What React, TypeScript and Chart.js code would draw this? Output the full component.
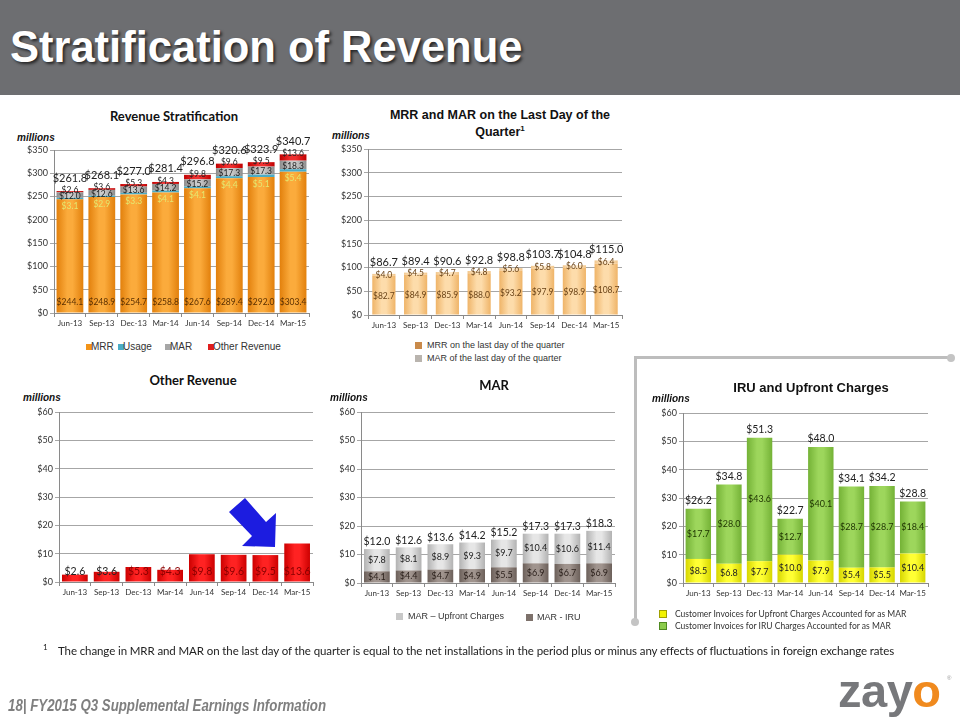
import React, { useEffect, useRef } from "react";
import { Chart, registerables } from "chart.js";

Chart.register(...registerables);

// ---------- DATA ----------
const quarters = ["Jun-13", "Sep-13", "Dec-13", "Mar-14", "Jun-14", "Sep-14", "Dec-14", "Mar-15"];

// Revenue Stratification
const stratMRR = [244.1, 248.9, 254.7, 258.8, 267.6, 289.4, 292.0, 303.4];
const stratUsage = [3.1, 2.9, 3.3, 4.1, 4.1, 4.4, 5.1, 5.4];
const stratMAR = [12.0, 12.6, 13.6, 14.2, 15.2, 17.3, 17.3, 18.3];
const stratOther = [2.6, 3.6, 5.3, 4.3, 9.8, 9.6, 9.5, 13.6];
const stratTotals = ["$261.8", "$268.1", "$277.0", "$281.4", "$296.8", "$320.6", "$323.9", "$340.7"];

// MRR and MAR on the last day of the quarter
const lastDayMRR = [82.7, 84.9, 85.9, 88.0, 93.2, 97.9, 98.9, 108.7];
const lastDayMAR = [4.0, 4.5, 4.7, 4.8, 5.6, 5.8, 6.0, 6.4];
const lastDayTotals = ["$86.7", "$89.4", "$90.6", "$92.8", "$98.8", "$103.7", "$104.8", "$115.0"];

// Other Revenue
const otherRevenue = [2.6, 3.6, 5.3, 4.3, 9.8, 9.6, 9.5, 13.6];

// MAR
const marIRU = [4.1, 4.4, 4.7, 4.9, 5.5, 6.9, 6.7, 6.9];
const marUpfront = [7.8, 8.1, 8.9, 9.3, 9.7, 10.4, 10.6, 11.4];
const marTotals = ["$12.0", "$12.6", "$13.6", "$14.2", "$15.2", "$17.3", "$17.3", "$18.3"];

// IRU and Upfront Charges
const iruUpfront = [8.5, 6.8, 7.7, 10.0, 7.9, 5.4, 5.5, 10.4];
const iruIRU = [17.7, 28.0, 43.6, 12.7, 40.1, 28.7, 28.7, 18.4];
const iruTotals = ["$26.2", "$34.8", "$51.3", "$22.7", "$48.0", "$34.1", "$34.2", "$28.8"];

// ---------- STYLE ----------
const LATO = "Lato, 'Open Sans', sans-serif";
const ARIAL = "'Liberation Sans', Arial, sans-serif";
const NARROW = "'Liberation Sans Narrow', 'Arial Narrow', sans-serif";

const valueLabels = {
  id: "valueLabels",
  afterDatasetsDraw(chart: any, _args: any, opts: any) {
    if (!opts || !opts.segments) return;
    const ctx = chart.ctx;
    ctx.save();
    ctx.textAlign = "center";
    ctx.textBaseline = "middle";
    opts.segments.forEach((s: any) => {
      const meta = chart.getDatasetMeta(s.ds);
      const data = chart.data.datasets[s.ds].data as number[];
      meta.data.forEach((el: any, i: number) => {
        const v = data[i];
        let y = (el.y + el.base) / 2;
        if (s.anchor === "base") y = el.base;
        if (s.anchor === "top") y = el.y;
        y += s.dy || 0;
        ctx.font = `${s.size}px ${LATO}`;
        ctx.fillStyle = typeof s.color === "function" ? s.color(v, i) : s.color;
        ctx.fillText("$" + v.toFixed(1), el.x, y);
      });
    });
    if (opts.totals) {
      const meta = chart.getDatasetMeta(opts.totalsDs);
      ctx.font = `${opts.totalsSize}px ${LATO}`;
      ctx.fillStyle = "#222";
      meta.data.forEach((el: any, i: number) => {
        ctx.fillText(opts.totals[i], el.x, el.y + opts.totalsDy);
      });
    }
    ctx.restore();
  },
};
Chart.register(valueLabels);

const cyl = (edge: string, center: string, pct: number) => (c: any) => {
  const chart = c.chart;
  const xs = chart.scales && chart.scales.x;
  if (!xs || c.dataIndex == null) return center;
  const cx = xs.getPixelForValue(c.dataIndex);
  const w = ((xs.right - xs.left) / chart.data.labels.length) * pct;
  if (!isFinite(cx) || !isFinite(w) || w <= 1) return center;
  const g = chart.ctx.createLinearGradient(cx - w / 2, 0, cx + w / 2, 0);
  g.addColorStop(0, edge);
  g.addColorStop(0.4, center);
  g.addColorStop(0.6, center);
  g.addColorStop(1, edge);
  return g;
};

function baseOptions(p: { max: number; step: number; yWidth: number; padTop: number; padRight: number; pct: number; labels: any }) {
  return {
    responsive: false,
    animation: false,
    devicePixelRatio: 1,
    layout: { padding: { top: p.padTop, right: p.padRight, left: 0, bottom: 0 } },
    datasets: { bar: { categoryPercentage: p.pct, barPercentage: 1 } },
    plugins: {
      legend: { display: false },
      tooltip: { enabled: false },
      title: { display: false },
      valueLabels: p.labels,
    },
    scales: {
      x: {
        stacked: true,
        grid: { display: true, drawOnChartArea: false, drawTicks: true, tickLength: 4, color: "#8a8a8a" },
        border: { color: "#8a8a8a" },
        ticks: { font: { family: LATO, size: 8 }, color: "#333", padding: 2, maxRotation: 0, autoSkip: false },
        afterFit: (s: any) => {
          s.height = 18;
        },
      },
      y: {
        stacked: true,
        min: 0,
        max: p.max,
        ticks: {
          stepSize: p.step,
          callback: (v: any) => "$" + v,
          font: { family: LATO, size: 9 },
          color: "#333",
          padding: 2,
        },
        grid: { color: "#a6a6a6", tickLength: 4, drawTicks: true },
        border: { color: "#8a8a8a" },
        afterFit: (s: any) => {
          s.width = p.yWidth;
        },
      },
    },
  };
}

function stratConfig(): any {
  const pct = 0.84;
  return {
    type: "bar",
    data: {
      labels: quarters,
      datasets: [
        { label: "MRR", data: stratMRR, backgroundColor: cyl("#e2800c", "#fbab3c", pct) },
        { label: "Usage", data: stratUsage, backgroundColor: "#4bacc6" },
        { label: "MAR", data: stratMAR, backgroundColor: cyl("#8c8c8c", "#cacaca", pct) },
        { label: "Other Revenue", data: stratOther, backgroundColor: cyl("#c00000", "#f03030", pct) },
      ],
    },
    options: baseOptions({
      max: 350, step: 50, yWidth: 50, padTop: 26, padRight: 2, pct,
      labels: {
        segments: [
          { ds: 0, anchor: "base", dy: -10, size: 8.5, color: "#5b3000" },
          { ds: 1, anchor: "base", dy: 7, size: 8.5, color: "#e4e870" },
          { ds: 2, anchor: "center", dy: 1, size: 8.5, color: "#222" },
          { ds: 3, anchor: "top", dy: -1, size: 8.5, color: "#222" },
        ],
        totals: stratTotals, totalsDs: 3, totalsDy: -13, totalsSize: 11,
      },
    }),
  };
}

function lastDayConfig(): any {
  const pct = 0.73;
  return {
    type: "bar",
    data: {
      labels: quarters,
      datasets: [
        { label: "MRR on the last day of the quarter", data: lastDayMRR, backgroundColor: cyl("#efb468", "#fddcab", pct) },
        { label: "MAR of the last day of the quarter", data: lastDayMAR, backgroundColor: cyl("#f2c68a", "#feeacd", pct) },
      ],
    },
    options: baseOptions({
      max: 350, step: 50, yWidth: 50, padTop: 25, padRight: 2, pct,
      labels: {
        segments: [
          { ds: 0, anchor: "center", dy: 1, size: 8.5, color: "#6b4418" },
          { ds: 1, anchor: "center", dy: 0, size: 8.5, color: "#6b4418" },
        ],
        totals: lastDayTotals, totalsDs: 1, totalsDy: -11, totalsSize: 11,
      },
    }),
  };
}

function otherConfig(): any {
  const pct = 0.81;
  return {
    type: "bar",
    data: {
      labels: quarters,
      datasets: [{ label: "Other Revenue", data: otherRevenue, backgroundColor: cyl("#cc0000", "#ff2222", pct) }],
    },
    options: baseOptions({
      max: 60, step: 10, yWidth: 50, padTop: 12, padRight: 2, pct,
      labels: {
        segments: [
          { ds: 0, anchor: "base", dy: -10, size: 10.5, color: (v: number) => (v > 4 ? "#8a0000" : "#222") },
        ],
      },
    }),
  };
}

function marConfig(): any {
  const pct = 0.81;
  return {
    type: "bar",
    data: {
      labels: quarters,
      datasets: [
        { label: "MAR - IRU", data: marIRU, backgroundColor: cyl("#6c605a", "#a0948e", pct) },
        { label: "MAR – Upfront Charges", data: marUpfront, backgroundColor: cyl("#b2b2b2", "#e6e6e6", pct) },
      ],
    },
    options: baseOptions({
      max: 60, step: 10, yWidth: 50, padTop: 12, padRight: 2, pct,
      labels: {
        segments: [
          { ds: 0, anchor: "center", dy: 0, size: 9, color: "#2a1f1a" },
          { ds: 1, anchor: "center", dy: 0, size: 9, color: "#222" },
        ],
        totals: marTotals, totalsDs: 1, totalsDy: -7, totalsSize: 10.5,
      },
    }),
  };
}

function iruConfig(): any {
  const pct = 0.83;
  return {
    type: "bar",
    data: {
      labels: quarters,
      datasets: [
        { label: "Customer Invoices for Upfront Charges Accounted for as MAR", data: iruUpfront, backgroundColor: cyl("#d6d600", "#ffff33", pct) },
        { label: "Customer Invoices for IRU Charges Accounted for as MAR", data: iruIRU, backgroundColor: cyl("#74b236", "#9dd65c", pct) },
      ],
    },
    options: baseOptions({
      max: 60, step: 10, yWidth: 50, padTop: 13, padRight: 2, pct,
      labels: {
        segments: [
          { ds: 0, anchor: "center", dy: 0, size: 9, color: "#222" },
          { ds: 1, anchor: "center", dy: 0, size: 9, color: "#1e3300" },
        ],
        totals: iruTotals, totalsDs: 1, totalsDy: -8, totalsSize: 10.5,
      },
    }),
  };
}

// ---------- COMPONENTS ----------
function ChartBox(props: { left: number; top: number; width: number; height: number; config: () => any }) {
  const ref = useRef<HTMLCanvasElement>(null);
  useEffect(() => {
    const chart = new Chart(ref.current as HTMLCanvasElement, props.config());
    return () => chart.destroy();
  }, []);
  return (
    <canvas
      ref={ref}
      width={props.width}
      height={props.height}
      style={{ position: "absolute", left: props.left, top: props.top, width: props.width, height: props.height }}
    />
  );
}

function CText(props: { x: number; y: number; children: any; style?: any }) {
  return (
    <div
      style={{
        position: "absolute",
        left: props.x,
        top: props.y,
        transform: "translate(-50%, -50%)",
        whiteSpace: "nowrap",
        lineHeight: 1,
        ...props.style,
      }}
    >
      {props.children}
    </div>
  );
}

function LText(props: { x: number; y: number; children: any; style?: any; sx?: number }) {
  return (
    <div
      style={{
        position: "absolute",
        left: props.x,
        top: props.y,
        transform: `translateY(-50%) scaleX(${props.sx || 1})`,
        transformOrigin: "left center",
        whiteSpace: "nowrap",
        lineHeight: 1,
        ...props.style,
      }}
    >
      {props.children}
    </div>
  );
}

function Marker(props: { x: number; y: number; size: number; color: string; border?: string }) {
  return (
    <div
      style={{
        position: "absolute",
        left: props.x,
        top: props.y - props.size / 2,
        width: props.size,
        height: props.size,
        background: props.color,
        boxSizing: "border-box",
        border: props.border ? `1px solid ${props.border}` : "none",
      }}
    />
  );
}

const titleStyle = { fontFamily: LATO, fontWeight: 700, fontSize: 13, color: "#111" };
const arialTitle = { fontFamily: ARIAL, fontWeight: 700, fontSize: 12.5, color: "#111" };
const millionsStyle = { fontFamily: ARIAL, fontWeight: 700, fontStyle: "italic", fontSize: 10, color: "#111" };
const legendStyle = { fontFamily: ARIAL, fontSize: 10, color: "#333" };
const legendSmall = { fontFamily: ARIAL, fontSize: 9, color: "#333" };

export default function App() {
  return (
    <div
      style={{
        position: "absolute",
        left: 0,
        top: 0,
        width: 960,
        height: 720,
        background: "#ffffff",
        overflow: "hidden",
        fontFamily: ARIAL,
      }}
    >
      {/* Header */}
      <div style={{ position: "absolute", left: 0, top: 0, width: 960, height: 95, background: "#6d6e71" }} />
      <LText
        x={10}
        y={48}
        style={{
          fontFamily: NARROW,
          fontWeight: 700,
          fontSize: 43.5,
          color: "#ffffff",
          textShadow: "2px 2px 3px rgba(0,0,0,0.65)",
        }}
      >
        Stratification of Revenue
      </LText>

      {/* Chart 1: Revenue Stratification */}
      <CText x={174} y={116} style={titleStyle}>Revenue Stratification</CText>
      <LText x={17} y={138} style={millionsStyle}>millions</LText>
      <ChartBox left={4} top={124} width={307} height={207} config={stratConfig} />
      <Marker x={86} y={347} size={6} color="#f39418" />
      <LText x={91} y={347} style={legendStyle}>MRR</LText>
      <Marker x={118} y={347} size={6} color="#4bacc6" />
      <LText x={123} y={347} style={legendStyle}>Usage</LText>
      <Marker x={165} y={347} size={6} color="#a6a6a6" />
      <LText x={170} y={347} style={legendStyle}>MAR</LText>
      <Marker x={208} y={347} size={6} color="#e01e1e" />
      <LText x={213} y={347} style={legendStyle}>Other Revenue</LText>

      {/* Chart 2: MRR and MAR on the Last Day of the Quarter */}
      <CText x={500} y={115} style={arialTitle}>MRR and MAR on the Last Day of the</CText>
      <CText x={500} y={132} style={arialTitle}>
        Quarter<sup style={{ fontSize: 8, verticalAlign: "super", lineHeight: 0 }}>1</sup>
      </CText>
      <LText x={332} y={136} style={millionsStyle}>millions</LText>
      <ChartBox left={318} top={124} width={306} height={209} config={lastDayConfig} />
      <Marker x={415} y={345} size={7} color="#c98a4a" />
      <LText x={427} y={345} style={legendSmall}>MRR on the last day of the quarter</LText>
      <Marker x={415} y={358} size={7} color="#b9b4ae" />
      <LText x={427} y={358} style={legendSmall}>MAR of the last day of the quarter</LText>

      {/* Chart 3: Other Revenue */}
      <CText x={193} y={380} style={titleStyle}>Other Revenue</CText>
      <LText x={23} y={398} style={millionsStyle}>millions</LText>
      <ChartBox left={9} top={400} width={306} height={200} config={otherConfig} />
      <svg
        width={960}
        height={720}
        style={{ position: "absolute", left: 0, top: 0, pointerEvents: "none" }}
      >
        <polygon
          points="229,512 245,498 266,522 276,513 275,547 242,546 252,536"
          fill="#1c1ce0"
        />
      </svg>

      {/* Chart 4: MAR */}
      <CText x={494} y={385} style={titleStyle}>MAR</CText>
      <LText x={330} y={398} style={millionsStyle}>millions</LText>
      <ChartBox left={311} top={400} width={306} height={201} config={marConfig} />
      <Marker x={396} y={616} size={7} color="#c8c8c8" />
      <LText x={408} y={616} style={legendSmall}>MAR – Upfront Charges</LText>
      <Marker x={526} y={617} size={7} color="#7d716b" />
      <LText x={537} y={617} style={legendSmall}>MAR - IRU</LText>

      {/* Chart 5 frame */}
      <div style={{ position: "absolute", left: 634, top: 356, width: 317, height: 3, background: "#bdbdbd" }} />
      <div style={{ position: "absolute", left: 634, top: 356, width: 3, height: 266, background: "#bdbdbd" }} />
      <div style={{ position: "absolute", left: 947, top: 354, width: 8, height: 8, borderRadius: 4, background: "#c4c4c4" }} />
      <div style={{ position: "absolute", left: 631, top: 618, width: 8, height: 8, borderRadius: 4, background: "#c4c4c4" }} />

      {/* Chart 5: IRU and Upfront Charges */}
      <CText x={811} y={387} style={{ ...arialTitle, fontSize: 13 }}>IRU and Upfront Charges</CText>
      <LText x={652} y={399} style={millionsStyle}>millions</LText>
      <ChartBox left={633} top={400} width={297} height={201} config={iruConfig} />
      <Marker x={659} y={614} size={8} color="#f2f200" border="#a0a000" />
      <LText x={675} y={614} style={{ fontFamily: LATO, fontSize: 8.5, color: "#333" }}>
        Customer Invoices for Upfront Charges Accounted for as MAR
      </LText>
      <Marker x={659} y={626} size={8} color="#8ccc4c" border="#4f8a20" />
      <LText x={675} y={626} style={{ fontFamily: LATO, fontSize: 8.5, color: "#333" }}>
        Customer Invoices for IRU Charges Accounted for as MAR
      </LText>

      {/* Footnote */}
      <LText x={43} y={647} style={{ fontFamily: LATO, fontSize: 8, color: "#222" }}>1</LText>
      <LText x={58} y={651} style={{ fontFamily: LATO, fontSize: 11.5, color: "#222", letterSpacing: -0.1 }}>
        The change in MRR and MAR on the last day of the quarter is equal to the net installations in the period plus or minus any effects of  fluctuations in foreign exchange rates
      </LText>

      {/* Footer */}
      <LText
        x={8}
        y={706}
        sx={0.83}
        style={{ fontFamily: NARROW, fontWeight: 700, fontStyle: "italic", fontSize: 16, color: "#7f7f7f" }}
      >
        18| FY2015 Q3 Supplemental Earnings Information
      </LText>
      <LText
        x={838}
        y={690}
        style={{ fontFamily: ARIAL, fontWeight: 700, fontSize: 47, letterSpacing: -0.5, color: "#77787b" }}
      >
        zay<span style={{ color: "#f08a1e" }}>o</span>
      </LText>
      <LText x={947} y={678} style={{ fontFamily: ARIAL, fontSize: 6, color: "#999" }}>®</LText>
    </div>
  );
}
